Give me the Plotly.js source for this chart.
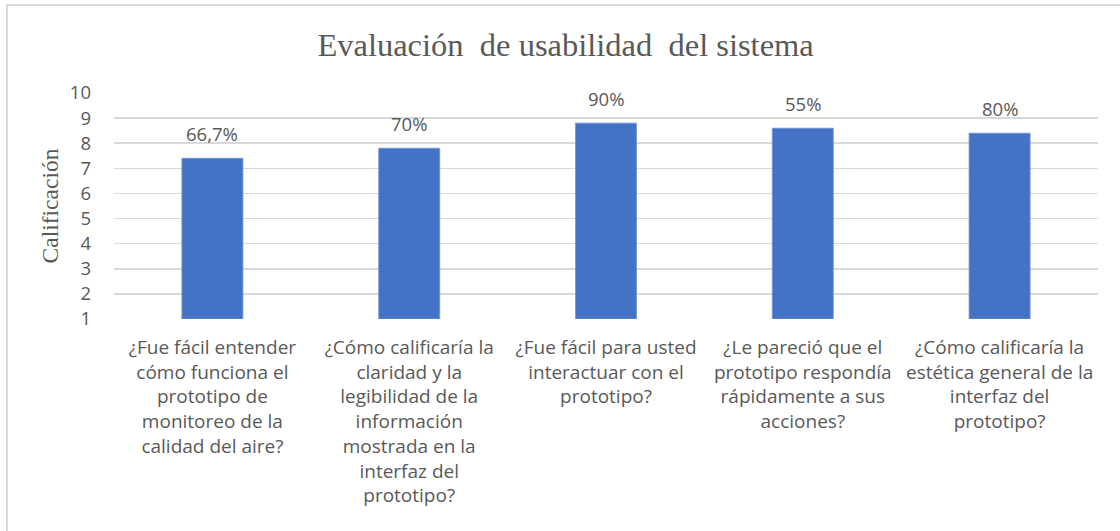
<!DOCTYPE html>
<html>
<head>
<meta charset="utf-8">
<script src="https://cdn.plot.ly/plotly-3.0.1.min.js"></script>
<style>
html,body{margin:0;padding:0;background:#fff;}
#wrap{position:relative;width:1120px;height:531px;overflow:hidden;}
#frame{position:absolute;left:6px;top:4px;width:1200px;height:600px;border-left:2px solid #d9d9d9;border-top:2px solid #d9d9d9;pointer-events:none;z-index:5;}
#chart{position:absolute;left:0;top:0;width:1120px;height:531px;}
</style>
</head>
<body>
<div id="wrap"><div id="chart"></div><div id="frame"></div></div>
<script>
const categories = ["Q1", "Q2", "Q3", "Q4", "Q5"];
const tickLabels = [
  "¿Fue fácil entender<br>cómo funciona el<br>prototipo de<br>monitoreo de la<br>calidad del aire?",
  "¿Cómo calificaría la<br>claridad y la<br>legibilidad de la<br>información<br>mostrada en la<br>interfaz del<br>prototipo?",
  "¿Fue fácil para usted<br>interactuar con el<br>prototipo?",
  "¿Le pareció que el<br>prototipo respondía<br>rápidamente a sus<br>acciones?",
  "¿Cómo calificaría la<br>estética general de la<br>interfaz del<br>prototipo?"
];
const values = [7.4, 7.8, 8.8, 8.6, 8.4];
const valueLabels = ["66,7%", "70%", "90%", "55%", "80%"];
const yTicks = [1, 2, 3, 4, 5, 6, 7, 8, 9, 10];
const axisMin = 1;

const grey = "#595959";
const trace = {
  type: "bar",
  x: categories,
  y: values.map(v => v - axisMin),
  base: axisMin,
  marker: {color: "#4472C4", line: {color: "#6f94d6", width: 0.8}},
  hoverinfo: "none"
};

const annotations = categories.map((c, i) => ({
  x: c, y: values[i], xref: "x", yref: "y",
  text: valueLabels[i], showarrow: false,
  yanchor: "bottom", yshift: 10,
  font: {family: "Open Sans, sans-serif", size: 18.5, color: grey}
}));

const layout = {
  width: 1120, height: 531,
  margin: {l: 114, r: 22, t: 93, b: 212},
  paper_bgcolor: "#fff", plot_bgcolor: "#fff",
  showlegend: false,
  bargap: 0.69,
  title: {
    text: "Evaluación  de usabilidad  del sistema",
    font: {family: "Liberation Serif, Times New Roman, serif", size: 32.5, color: grey},
    xref: "container", x: 0.505, xanchor: "center",
    yref: "container", y: 1 - 45/531, yanchor: "middle"
  },
  xaxis: {
    type: "category",
    tickvals: categories, ticktext: tickLabels,
    tickfont: {family: "Open Sans, sans-serif", size: 19, color: grey},
    ticks: "", showgrid: false, zeroline: false, showline: false,
    ticklabelstandoff: 15, tickangle: 0,
    fixedrange: true
  },
  yaxis: {
    range: [axisMin, 10],
    tickvals: yTicks,
    tickfont: {family: "Open Sans, sans-serif", size: 18.5, color: grey},
    showgrid: true, gridcolor: "#d9d9d9", gridwidth: 1.5,
    zeroline: false, showline: false, ticks: "",
    ticklabelstandoff: 22,
    title: {text: "Calificación", font: {family: "Liberation Serif, Times New Roman, serif", size: 23.5, color: grey}, standoff: 4},
    fixedrange: true
  },
  annotations: annotations
};

Plotly.newPlot("chart", [trace], layout, {displayModeBar: false, staticPlot: true});
</script>
</body>
</html>
